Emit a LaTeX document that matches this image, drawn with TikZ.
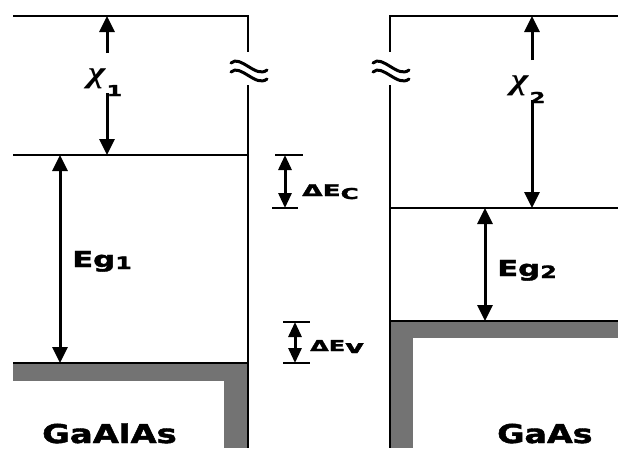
\documentclass[tikz,border=0pt]{standalone}
\usepackage{fontspec}
\usepackage{graphicx}
\setmainfont{DejaVu Sans}[BoldFeatures={FakeBold=1.6}]
\newfontfamily\chifont{Liberation Serif}[ItalicFeatures={FakeBold=2}]
\usetikzlibrary{arrows.meta}
\begin{document}
\begin{tikzpicture}[x=1pt,y=-1pt,
  band/.style={line width=2.8pt},
  hatch/.style={fill=black!55},
  bigarrow/.style={line width=3pt,-{Triangle[length=16pt,width=15pt]}},
  bigdim/.style={line width=3pt,{Triangle[length=16pt,width=15pt]}-{Triangle[length=16pt,width=15pt]}},
  smalldim/.style={line width=3pt,{Triangle[length=15pt,width=13pt]}-{Triangle[length=15pt,width=13pt]}},
  tick/.style={line width=2.8pt},
  wave/.style={line width=3pt,line cap=round},
  lbl/.style={inner sep=0pt,anchor=base west,font=\bfseries}]
\useasboundingbox (0,0) rectangle (618,448);

% ---------- coordinates ----------
\coordinate (Ltl) at (13,16);   \coordinate (Ltr) at (248,16);
\coordinate (Lbreak1) at (248,52); \coordinate (Lbreak2) at (248,85);
\coordinate (Lbot) at (248,448);
\coordinate (Lcl) at (13,155);  \coordinate (Lcr) at (248,155);
\coordinate (Lvl) at (13,363);  \coordinate (Lvr) at (248,363);

\coordinate (Rtr) at (618,16);  \coordinate (Rtl) at (390,16);
\coordinate (Rbreak1) at (390,52); \coordinate (Rbreak2) at (390,85);
\coordinate (Rbot) at (390,448);
\coordinate (Rcl) at (390,208); \coordinate (Rcr) at (618,208);
\coordinate (Rvl) at (390,321); \coordinate (Rvr) at (618,321);

% ---------- hatched valence regions ----------
\fill[hatch] (13,363) rectangle (248,381);
\fill[hatch] (224,363) rectangle (248,448);
\fill[hatch] (390,321) rectangle (618,338);
\fill[hatch] (390,321) rectangle (413,448);

% ---------- band edges ----------
\draw[band] (Ltl) -- (Ltr) -- (Lbreak1);
\draw[band] (Lbreak2) -- (Lbot);
\draw[band] (Lcl) -- (Lcr);
\draw[band] (Lvl) -- (Lvr);

\draw[band] (Rtr) -- (Rtl) -- (Rbreak1);
\draw[band] (Rbreak2) -- (Rbot);
\draw[band] (Rcl) -- (Rcr);
\draw[band] (Rvl) -- (Rvr);

% ---------- break marks ----------
\draw[wave] (231,63) .. controls (240,54) and (256,79) .. (267,70);
\draw[wave] (231,72) .. controls (240,63) and (256,88) .. (267,79);
\draw[wave] (373,63) .. controls (382,54) and (398,79) .. (409,70);
\draw[wave] (373,72) .. controls (382,63) and (398,88) .. (409,79);

% ---------- labels ----------
\node[lbl] (chi1) at (88,82) {\scalebox{1.25}[1]{\fontsize{30}{30}\selectfont\chifont\itshape χ}\hspace{1pt}\raisebox{-14pt}{\scalebox{1.5}[1]{\fontsize{15}{15}\selectfont 1}}};
\node[lbl] (chi2) at (511,89) {\scalebox{1.25}[1]{\fontsize{30}{30}\selectfont\chifont\itshape χ}\hspace{1pt}\raisebox{-14pt}{\scalebox{1.5}[1]{\fontsize{15}{15}\selectfont 2}}};
\node[lbl] (eg1) at (72,267) {\scalebox{1.4}[1]{\fontsize{22}{22}\selectfont Eg\raisebox{-2pt}{\fontsize{17}{17}\selectfont 1}}};
\node[lbl] (eg2) at (497,276) {\scalebox{1.4}[1]{\fontsize{22}{22}\selectfont Eg\raisebox{-2pt}{\fontsize{17}{17}\selectfont 2}}};
\node[lbl,font=\bfseries\fontsize{16}{16}\selectfont] (dec) at (302,196) {\scalebox{1.65}[1]{\symbol{"0394}E\raisebox{-3pt}{\fontsize{15}{15}\selectfont C}}};
\node[lbl,font=\bfseries\fontsize{15}{15}\selectfont] (dev) at (310,351) {\scalebox{1.6}[1]{\symbol{"0394}E\raisebox{-2pt}{\fontsize{18}{18}\selectfont v}}};
\node[lbl] (gaalas) at (42,443) {\scalebox{1.3}[1]{\fontsize{26}{26}\selectfont GaAlAs}};
\node[lbl] (gaas) at (497,443) {\scalebox{1.28}[1]{\fontsize{26}{26}\selectfont GaAs}};

% ---------- arrows ----------
\coordinate (chi1top) at (107,16);  \coordinate (chi1a) at (107,53);
\coordinate (chi1b) at (107,93);    \coordinate (chi1bot) at (107,155);
\draw[bigarrow] (chi1a) -- (chi1top);
\draw[bigarrow] (chi1b) -- (chi1bot);

\coordinate (chi2top) at (532,16);  \coordinate (chi2a) at (532,60);
\coordinate (chi2b) at (532,100);   \coordinate (chi2bot) at (532,208);
\draw[bigarrow] (chi2a) -- (chi2top);
\draw[bigarrow] (chi2b) -- (chi2bot);

\coordinate (eg1top) at (60,155); \coordinate (eg1bot) at (60,363);
\draw[bigdim] (eg1top) -- (eg1bot);
\coordinate (eg2top) at (485,208); \coordinate (eg2bot) at (485,321);
\draw[bigdim] (eg2top) -- (eg2bot);

% Delta Ec
\coordinate (ecT1) at (275,155); \coordinate (ecT2) at (303,155);
\coordinate (ecB1) at (272,208); \coordinate (ecB2) at (298,208);
\draw[tick] (ecT1) -- (ecT2);
\draw[tick] (ecB1) -- (ecB2);
\coordinate (ecA) at (285,155); \coordinate (ecB) at (285,208);
\draw[smalldim] (ecA) -- (ecB);

% Delta Ev
\coordinate (evT1) at (283,322); \coordinate (evT2) at (310,322);
\coordinate (evB1) at (283,363); \coordinate (evB2) at (310,363);
\draw[tick] (evT1) -- (evT2);
\draw[tick] (evB1) -- (evB2);
\coordinate (evA) at (295,322); \coordinate (evB) at (295,363);
\draw[smalldim] (evA) -- (evB);
\end{tikzpicture}
\end{document}
